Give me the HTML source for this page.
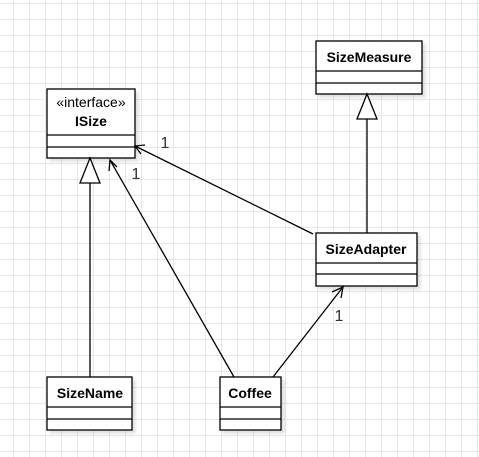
<!DOCTYPE html>
<html><head><style>
body{margin:0;width:479px;height:457px;overflow:hidden;background:#fff;
background-image:linear-gradient(to right,#e8e8e8 1px,transparent 1px),linear-gradient(to bottom,#e8e8e8 1px,transparent 1px);
background-size:16px 16px;background-position:13px 3px;}
svg{position:absolute;left:0;top:0}
text{font-family:"Liberation Sans",Arial,sans-serif;}
</style></head><body>
<svg width="479" height="457" viewBox="0 0 479 457">
<defs><filter id="sh"><feDropShadow dx="3" dy="3" stdDeviation="1.5" flood-color="#000" flood-opacity="0.12"/></filter></defs>
<g stroke="#000" stroke-width="1.3" fill="#fff">
<g filter="url(#sh)">
<rect x="47" y="89" width="88" height="69"/>
<rect x="316" y="41" width="106" height="53"/>
<rect x="316" y="233" width="101" height="53"/>
<rect x="47" y="377" width="85" height="53"/>
<rect x="220" y="377" width="61" height="53"/>
</g>
<line x1="47" y1="135" x2="135" y2="135"/><line x1="47" y1="147" x2="135" y2="147"/>
<line x1="316" y1="71" x2="422" y2="71"/><line x1="316" y1="83" x2="422" y2="83"/>
<line x1="316" y1="263" x2="417" y2="263"/><line x1="316" y1="274" x2="417" y2="274"/>
<line x1="47" y1="407" x2="132" y2="407"/><line x1="47" y1="419" x2="132" y2="419"/>
<line x1="220" y1="407" x2="281" y2="407"/><line x1="220" y1="419" x2="281" y2="419"/>
<line x1="90" y1="183" x2="90" y2="377"/>
<polygon points="90,158 80,183 100,183"/>
<line x1="367" y1="119" x2="367" y2="233"/>
<polygon points="367,94 357,119 377,119"/>
<line x1="313" y1="234" x2="135" y2="146"/>
<line x1="234" y1="377" x2="110" y2="160"/>
<line x1="273" y1="377" x2="343" y2="287"/>
<g fill="none">
<polyline points="145,145 135,146 141,154"/>
<polyline points="109,171 110,160 117,167"/>
<polyline points="332,292 343,287 341,298"/>
</g>
</g>
<g font-size="14" text-anchor="middle">
<text x="91" y="107">«interface»</text>
<text x="91" y="126" font-weight="bold">ISize</text>
<text x="369" y="62" font-weight="bold">SizeMeasure</text>
<text x="366" y="254" font-weight="bold">SizeAdapter</text>
<text x="90" y="398" font-weight="bold">SizeName</text>
<text x="250" y="398" font-weight="bold">Coffee</text>
</g>
<g font-size="16" text-anchor="middle" fill="#333">
<text x="165" y="148">1</text>
<text x="136" y="179">1</text>
<text x="339" y="321">1</text>
</g>
</svg>
</body></html>
